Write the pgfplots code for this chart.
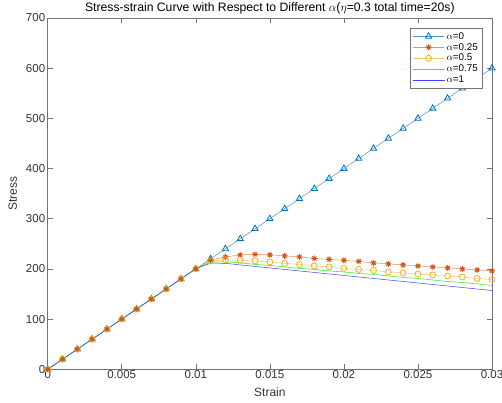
\documentclass[border=0pt]{standalone}
\usepackage{fontspec}
\setmainfont{Liberation Sans}
\usepackage{pgfplots}
\usepackage{pgfplotstable}
\pgfplotsset{compat=1.18}

\definecolor{cA}{rgb}{0,0.447,0.741}
\definecolor{cB}{rgb}{0.85,0.325,0.098}
\definecolor{cC}{rgb}{0.929,0.694,0.125}
\definecolor{cD}{rgb}{0.2,0.95,0.2}
\definecolor{cE}{rgb}{0.25,0.25,1}
\definecolor{axgray}{gray}{0.45}

% eight-spoke asterisk
\pgfdeclareplotmark{star8}{%
  \pgfpathmoveto{\pgfqpoint{-\pgfplotmarksize}{0pt}}%
  \pgfpathlineto{\pgfqpoint{\pgfplotmarksize}{0pt}}%
  \pgfpathmoveto{\pgfqpoint{0pt}{-\pgfplotmarksize}}%
  \pgfpathlineto{\pgfqpoint{0pt}{\pgfplotmarksize}}%
  \pgfpathmoveto{\pgfqpoint{-.707\pgfplotmarksize}{-.707\pgfplotmarksize}}%
  \pgfpathlineto{\pgfqpoint{.707\pgfplotmarksize}{.707\pgfplotmarksize}}%
  \pgfpathmoveto{\pgfqpoint{-.707\pgfplotmarksize}{.707\pgfplotmarksize}}%
  \pgfpathlineto{\pgfqpoint{.707\pgfplotmarksize}{-.707\pgfplotmarksize}}%
  \pgfusepathqstroke}

% strain, then stress for alpha = 0, 0.25, 0.5, 0.75, 1
\pgfplotstableread{
e      a0   b    c    d    f
0      0    0    0    0    0
0.001  20   20   20   20   20
0.002  40   40   40   40   40
0.003  60   60   60   60   60
0.004  80   80   80   80   80
0.005  100  100  100  100  100
0.006  120  120  120  120  120
0.007  140  140  140  140  140
0.008  160  160  160  160  160
0.009  180  180  180  180  180
0.010  200  200  200  200  200
0.011  220  218  216  213  211
0.012  240  224  218  214  211
0.013  260  228  217  212  208
0.014  280  229  216  209  205
0.015  300  228  214  207  202
0.016  320  226  211  204  199
0.017  340  224  209  201  196
0.018  360  221  206  199  193
0.019  380  219  204  196  190
0.020  400  217  201  194  187
0.021  420  215  199  191  184
0.022  440  212  197  189  181
0.023  460  210  194  186  178
0.024  480  208  192  183  175
0.025  500  206  190  181  172
0.026  520  204  188  178  169
0.027  540  202  186  175  166
0.028  560  200  184  173  163
0.029  580  198  181  170  160
0.030  600  196  179  167  157
}\data

\begin{document}
\begin{tikzpicture}
\begin{axis}[
  at={(0,0)}, anchor=south west,
  scale only axis, width=444.3pt, height=351.3pt,
  xmin=0, xmax=0.03, ymin=0, ymax=700,
  xtick={0,0.005,0.01,0.015,0.02,0.025,0.03},
  xticklabels={0,0.005,0.01,0.015,0.02,0.025,0.03},
  ytick={0,100,...,700},
  scaled x ticks=false,
  /pgf/number format/assume math mode=true,
  tick align=inside, tickpos=both,
  major tick length=5pt,
  axis line style={axgray, line width=0.6pt},
  tick style={axgray, line width=0.6pt},
  tick label style={font=\fontsize{11.5}{12}\selectfont, text=black!80},
  xticklabel style={yshift=2pt},
  yticklabel style={xshift=1pt},
  label style={font=\fontsize{12}{13}\selectfont, text=black!80},
  xlabel={Strain}, ylabel={Stress},
  xlabel style={yshift=-2pt},
  ylabel style={yshift=2pt},
  title={Stress-strain Curve with Respect to Different $\alpha$($\eta$=0.3 total time=20s)},
  title style={font=\fontsize{12.2}{13}\selectfont, yshift=-6pt},
  legend style={at={(1,1)}, anchor=north east, xshift=-10pt, yshift=-10pt,
    font=\fontsize{9.8}{10}\selectfont, draw=axgray, line width=0.5pt,
    row sep=-1.4pt, inner sep=2pt, fill=white},
  legend cell align=left,
  legend image code/.code={%
    \draw[mark repeat=2, mark phase=2]
      plot coordinates {(0cm,0cm) (0.55cm,0cm) (1.1cm,0cm)};},
]
\addplot[color=cA!75!white, line width=0.5pt, mark=triangle,
  mark size=3.6pt, mark options={draw=cA, line width=0.8pt, solid}]
  table[x=e, y=a0] {\data};
\addlegendentry{$\alpha$=0}
\addplot[color=cB!65!white, line width=0.5pt, mark=star8,
  mark size=2.9pt, mark options={draw=cB, line width=0.9pt, solid}]
  table[x=e, y=b] {\data};
\addlegendentry{$\alpha$=0.25}
\addplot[color=cC!70!white, line width=0.5pt, mark=o,
  mark size=3pt, mark options={draw=cC, line width=0.8pt, solid}]
  table[x=e, y=c] {\data};
\addlegendentry{$\alpha$=0.5}
\addplot[color=cD, line width=0.6pt, smooth, tension=0.3, no markers]
  table[x=e, y=d] {\data};
\addlegendentry{$\alpha$=0.75}
\addplot[color=cE, line width=0.5pt, smooth, tension=0.3, no markers]
  table[x=e, y=f] {\data};
\addlegendentry{$\alpha$=1}
\end{axis}
\pgfresetboundingbox
\path (-47.7pt,-33.7pt) rectangle (454.3pt,369.3pt);
\end{tikzpicture}
\end{document}
